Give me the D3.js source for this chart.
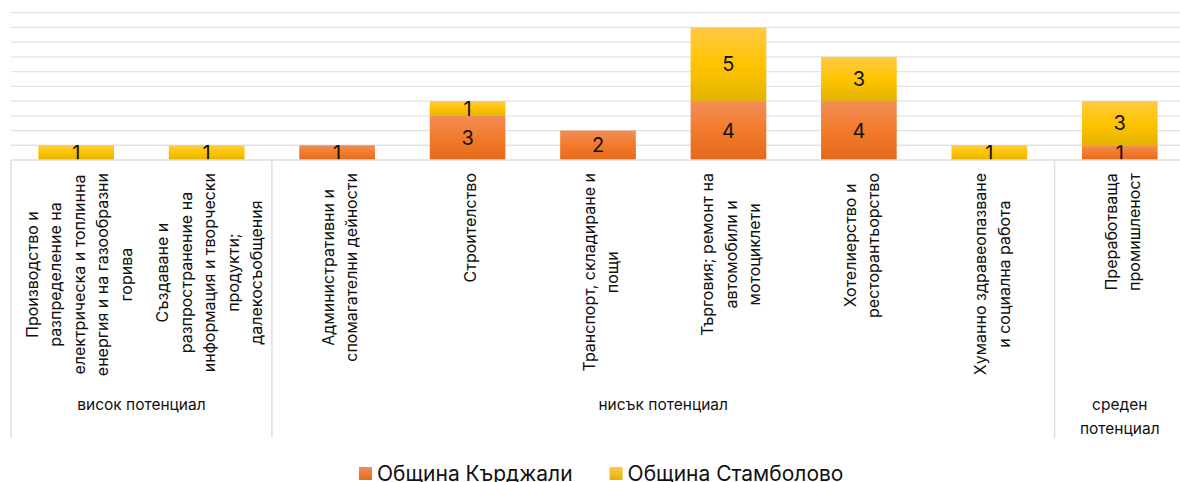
<!DOCTYPE html>
<html>
<head>
<meta charset="utf-8">
<script src="https://cdn.jsdelivr.net/npm/d3@7"></script>
<style>
  html, body { margin: 0; padding: 0; background: #fff; }
  svg { display: block; font-family: Inter, "Liberation Sans", Arial, sans-serif; }
</style>
</head>
<body>
<svg id="chart" width="1180" height="482"></svg>
<script>
// ---- data ----
const categories = [
  "Производство и\nразпределение на\nелектрическа и топлинна\nенергия и на газообразни\nгорива",
  "Създаване и\nразпространение на\nинформация и творчески\nпродукти;\nдалекосъобщения",
  "Административни и\nспомагателни дейности",
  "Строителство",
  "Транспорт, складиране и\nпощи",
  "Търговия; ремонт на\nавтомобили и\nмотоциклети",
  "Хотелиерство и\nресторантьорство",
  "Хуманно здравеопазване\nи социална работа",
  "Преработваща\nпромишленост"
];
const groupNames = ["висок потенциал", "нисък потенциал", "среден\nпотенциал"];
const groupSizes = [2, 6, 1];
const seriesNames = ["Община Кърджали", "Община Стамболово"];
const kardzhali = [0, 0, 1, 3, 2, 4, 4, 0, 1];
const stambolovo = [1, 1, 0, 1, 0, 5, 3, 1, 3];
const yTicks = [0, 1, 2, 3, 4, 5, 6, 7, 8, 9, 10];

// ---- layout ----
const svg = d3.select("#chart");
const left = 11, right = 1185, baseY = 160, topY = 12.7;
const x = d3.scaleBand().domain(d3.range(categories.length)).range([left, right]).paddingInner(0.42).paddingOuter(0.21);
const y = d3.scaleLinear().domain([0, 10]).range([baseY, topY]);

const defs = svg.append("defs");
function grad(id, stops) {
  const g = defs.append("linearGradient").attr("id", id).attr("x1", 0).attr("y1", 0).attr("x2", 0).attr("y2", 1);
  stops.forEach(s => g.append("stop").attr("offset", s[0]).attr("stop-color", s[1]));
}
grad("gOrange", [[0, "#f28d58"], [0.5, "#f27b2b"], [1, "#e4691b"]]);
grad("gYellow", [[0, "#ffc945"], [0.5, "#ffc400"], [1, "#e3b300"]]);
const fills = ["url(#gOrange)", "url(#gYellow)"];
const legendColors = [["#f28d58", "#e4691b"], ["#ffc945", "#e3b300"]];

// gridlines
svg.append("g").selectAll("line").data(yTicks.filter(t => t > 0)).join("line")
  .attr("x1", left).attr("x2", 1180)
  .attr("y1", d => y(d)).attr("y2", d => y(d))
  .attr("stroke", "#e0e3e9").attr("stroke-width", 1.3);

// stacked bars
const rows = categories.map((c, i) => ({ i, k: kardzhali[i], s: stambolovo[i] }));
const stack = d3.stack().keys(["k", "s"])(rows);
const layers = svg.append("g").selectAll("g").data(stack).join("g").attr("fill", (d, j) => fills[j]);
layers.selectAll("rect").data(d => d.filter(p => p[1] - p[0] > 0)).join("rect")
  .attr("x", d => x(d.data.i)).attr("width", x.bandwidth())
  .attr("y", d => y(d[1])).attr("height", d => y(d[0]) - y(d[1]));
layers.selectAll("text").data(d => d.filter(p => p[1] - p[0] > 0)).join("text")
  .attr("x", d => x(d.data.i) + x.bandwidth() / 2)
  .attr("y", d => (y(d[0]) + y(d[1])) / 2)
  .attr("text-anchor", "middle").attr("dy", "0.36em")
  .attr("font-size", 20).attr("fill", "#111")
  .text(d => d[1] - d[0]);

// axis line
const axisColor = "#dcdfe5";
svg.append("line").attr("x1", left).attr("x2", 1180).attr("y1", baseY).attr("y2", baseY)
  .attr("stroke", axisColor).attr("stroke-width", 1.5);

// group separators
const step = x.step();
const bounds = [0];
groupSizes.forEach(n => bounds.push(bounds[bounds.length - 1] + n));
svg.append("g").selectAll("line").data(bounds.slice(0, -1)).join("line")
  .attr("x1", b => left + b * step).attr("x2", b => left + b * step)
  .attr("y1", baseY).attr("y2", 438)
  .attr("stroke", axisColor).attr("stroke-width", 1.5);

// category labels (rotated)
const pitch = 23.5, labTop = 173, catFont = 16;
categories.forEach((c, i) => {
  const lines = c.split("\n");
  const cx = x(i) + x.bandwidth() / 2;
  const g = svg.append("g");
  const texts = lines.map((l, j) => g.append("text").attr("font-size", catFont).attr("fill", "#111")
    .attr("text-anchor", "middle").text(l));
  const W = d3.max(texts, t => t.node().getComputedTextLength());
  texts.forEach((t, j) => {
    const lx = cx + (j - (lines.length - 1) / 2) * pitch + 8.5;
    const ly = labTop + W / 2;
    t.attr("transform", `translate(${lx},${ly}) rotate(-90)`);
  });
});

// group labels
groupNames.forEach((gname, gi) => {
  const cx = left + (bounds[gi] + bounds[gi + 1]) / 2 * step;
  gname.split("\n").forEach((l, j) => {
    svg.append("text").attr("x", cx).attr("y", 410 + j * 24).attr("text-anchor", "middle")
      .attr("font-size", 15.5).attr("fill", "#111").text(l);
  });
});

// legend
let lx = 359;
seriesNames.forEach((s, j) => {
  const lg = defs.append("linearGradient").attr("id", "lg" + j).attr("x1", 0).attr("y1", 0).attr("x2", 0).attr("y2", 1);
  lg.append("stop").attr("offset", 0).attr("stop-color", legendColors[j][0]);
  lg.append("stop").attr("offset", 1).attr("stop-color", legendColors[j][1]);
  svg.append("rect").attr("x", lx).attr("y", 467).attr("width", 13).attr("height", 13).attr("fill", `url(#lg${j})`);
  const t = svg.append("text").attr("x", lx + 18).attr("y", 480.5).attr("font-size", 21).attr("fill", "#111").text(s);
  lx = lx + 18 + t.node().getComputedTextLength() + 37;
});
</script>
</body>
</html>
